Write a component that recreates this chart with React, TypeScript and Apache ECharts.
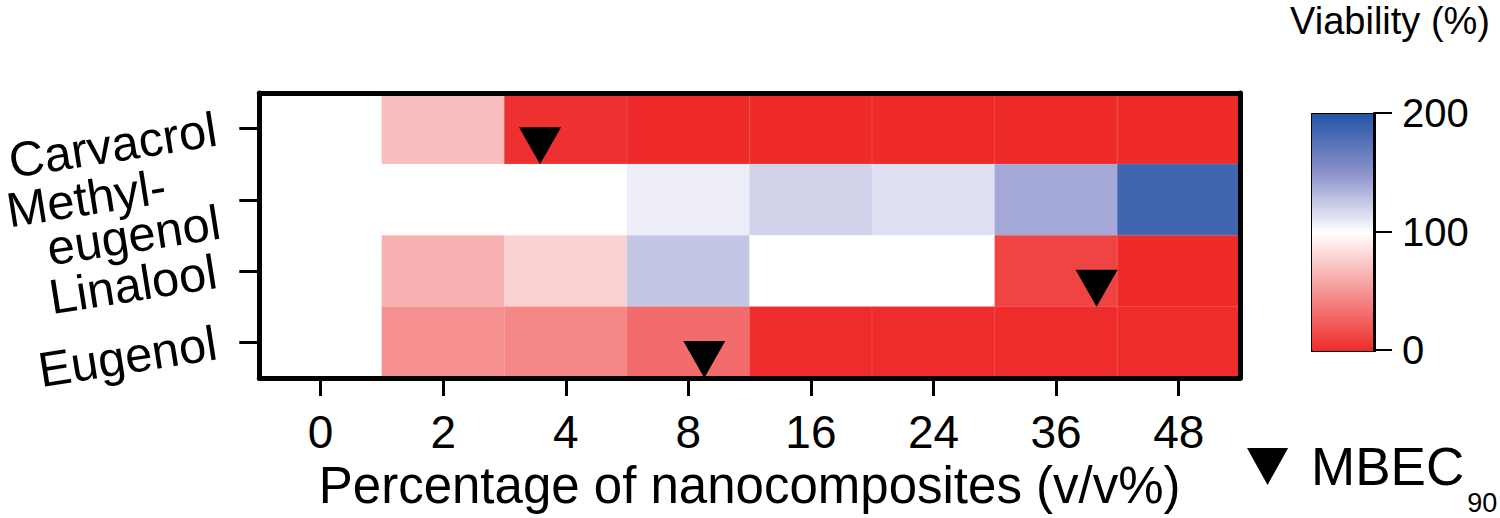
import React, { useEffect, useRef } from "react";
import * as echarts from "echarts";

const xCategories = ["0", "2", "4", "8", "16", "24", "36", "48"];
const agents = ["Carvacrol", "Methyl-eugenol", "Linalool", "Eugenol"];

// Viability (%) per agent, by percentage of nanocomposites
const carvacrol = [100, 69, 3, 0, 0, 0, 0, 0];
const methylEugenol = [100, 100, 100, 108, 120, 114, 140, 186];
const linalool = [100, 63, 79, 126, 100, 100, 12, 0];
const eugenol = [100, 48, 44, 31, 1, 1, 1, 1];

// MBEC90 markers: agent and position along the concentration columns (column units)
const mbecAgents = ["Carvacrol", "Linalool", "Eugenol"];
const mbecColumnPos = [2.29, 6.83, 3.63];

const colorTicks = [0, 100, 200];

const FONT = "'Liberation Sans', Arial, Helvetica, sans-serif";

export default function App() {
  const ref = useRef<HTMLDivElement>(null);

  useEffect(() => {
    if (!ref.current) return;
    const chart = echarts.init(ref.current, undefined, { renderer: "svg" });

    const rows = [carvacrol, methylEugenol, linalool, eugenol];
    const heatData: any[] = [];
    rows.forEach((vals, yi) => {
      vals.forEach((v, xi) => heatData.push([xi, yi, v]));
    });
    const mbecData = mbecAgents.map((a, i) => [mbecColumnPos[i], agents.indexOf(a) + 1]);

    const option: any = {
      animation: false,
      backgroundColor: "#fff",
      textStyle: { fontFamily: FONT, color: "#000" },
      title: {
        text: "Viability (%)",
        right: 10,
        top: 2,
        padding: 0,
        textStyle: { fontSize: 38, fontWeight: "normal", color: "#000", fontFamily: FONT },
      },
      legend: {
        data: ["MBEC90"],
        left: 1247,
        top: 440,
        padding: 0,
        icon: "path://M0,0L10,0L5,9Z",
        itemWidth: 43,
        itemHeight: 37,
        itemStyle: { color: "#000", opacity: 1 },
        formatter: () => "{a|MBEC}{b|90}",
        textStyle: {
          color: "#000",
          fontFamily: FONT,
          rich: {
            a: { fontSize: 53, lineHeight: 99, verticalAlign: "middle", padding: [0, 0, 0, 17], fontFamily: FONT, color: "#000" },
            b: { fontSize: 27, lineHeight: 27, verticalAlign: "bottom", padding: [0, 0, 0, 3], fontFamily: FONT, color: "#000" },
          },
        },
      },
      grid: [
        { left: 258, right: 260, top: 93, bottom: 140 },
        { left: 1311, top: 113, width: 63, height: 237 },
      ],
      xAxis: [
        {
          type: "category",
          gridIndex: 0,
          data: xCategories,
          position: "bottom",
          z: 10,
          axisLine: { show: true, onZero: false, lineStyle: { color: "#000", width: 5 } },
          axisTick: { show: true, alignWithLabel: true, length: 18, lineStyle: { color: "#000", width: 3 } },
          axisLabel: { interval: 0, fontSize: 46, margin: 31, color: "#000", fontFamily: FONT },
          splitLine: { show: false },
          splitArea: { show: false },
          name: "Percentage of nanocomposites (v/v%)",
          nameLocation: "middle",
          nameGap: 79,
          nameTextStyle: { fontSize: 51, color: "#000", fontFamily: FONT },
        },
        {
          type: "value",
          gridIndex: 0,
          min: 0,
          max: 8,
          position: "top",
          z: 10,
          axisLine: { show: true, onZero: false, lineStyle: { color: "#000", width: 5 } },
          axisTick: { show: false },
          axisLabel: { show: false },
          splitLine: { show: false },
        },
        {
          type: "value",
          gridIndex: 1,
          min: 0,
          max: 1,
          show: false,
        },
      ],
      yAxis: [
        {
          type: "category",
          gridIndex: 0,
          data: agents,
          inverse: true,
          z: 10,
          axisLine: { show: true, onZero: false, lineStyle: { color: "#000", width: 5 } },
          axisTick: { show: true, alignWithLabel: true, length: 20, lineStyle: { color: "#000", width: 3 } },
          axisLabel: {
            interval: 0,
            hideOverlap: false,
            rotate: 9,
            fontSize: 49,
            margin: 43,
            color: "#000",
            fontFamily: FONT,
            formatter: (v: string) =>
              v === "Methyl-eugenol" ? "{m|Methyl-}\n{e|eugenol}" : v,
            rich: {
              m: { fontSize: 49, lineHeight: 44, padding: [0, 48, 0, 0], fontFamily: FONT, color: "#000" },
              e: { fontSize: 49, lineHeight: 44, fontFamily: FONT, color: "#000" },
            },
          },
          splitLine: { show: false },
          splitArea: { show: false },
        },
        {
          type: "value",
          gridIndex: 0,
          min: 0,
          max: 4,
          inverse: true,
          position: "right",
          z: 10,
          axisLine: { show: true, onZero: false, lineStyle: { color: "#000", width: 5 } },
          axisTick: { show: false },
          axisLabel: { show: false },
          splitLine: { show: false },
        },
        {
          type: "value",
          gridIndex: 1,
          min: colorTicks[0],
          max: colorTicks[colorTicks.length - 1],
          interval: 100,
          position: "right",
          z: 10,
          axisLine: { show: true, onZero: false, lineStyle: { color: "#000", width: 2 } },
          axisTick: { show: true, length: 18, lineStyle: { color: "#000", width: 2 } },
          axisLabel: { fontSize: 40, margin: 28, align: "left", color: "#000", fontFamily: FONT },
          splitLine: { show: false },
        },
      ],
      visualMap: {
        type: "continuous",
        seriesIndex: 0,
        min: 0,
        max: 200,
        calculable: false,
        left: 1311,
        top: 113,
        itemWidth: 63,
        itemHeight: 237,
        padding: 0,
        borderColor: "#000",
        borderWidth: 2,
        inRange: { color: ["#ee2a2a", "#f69494", "#ffffff", "#8c92cc", "#2355a5"] },
      },
      series: [
        {
          type: "heatmap",
          xAxisIndex: 0,
          yAxisIndex: 0,
          data: heatData,
          itemStyle: { borderColor: "rgba(255,255,255,0.12)", borderWidth: 1 },
          emphasis: { disabled: true },
          z: 2,
        },
        {
          type: "scatter",
          name: "MBEC90",
          xAxisIndex: 1,
          yAxisIndex: 1,
          data: mbecData,
          symbol: "triangle",
          symbolRotate: 180,
          symbolSize: [42, 37],
          symbolOffset: [0, "-50%"],
          itemStyle: { color: "#000", opacity: 1 },
          z: 5,
        },
      ],
    };

    chart.setOption(option);
    return () => chart.dispose();
  }, []);

  return (
    <div
      ref={ref}
      style={{ position: "fixed", left: 0, top: 0, width: 1500, height: 518, background: "#fff" }}
    />
  );
}
